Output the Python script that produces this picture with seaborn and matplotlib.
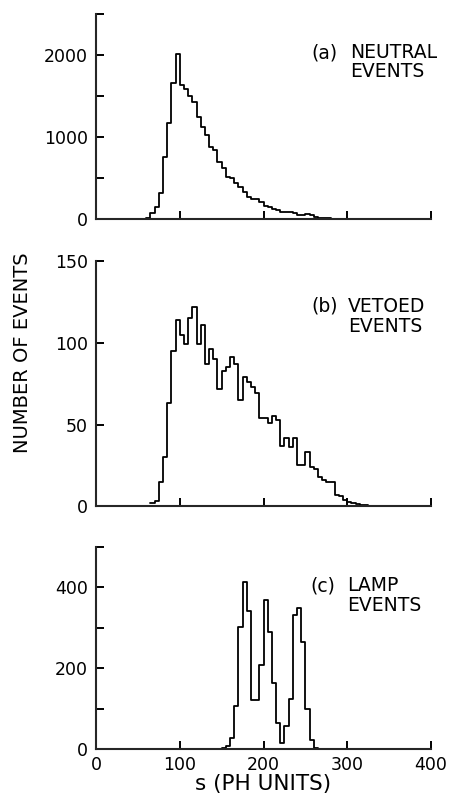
import numpy as np
import pandas as pd
import matplotlib
matplotlib.use("Agg")
import matplotlib.pyplot as plt
from matplotlib import font_manager
import seaborn as sns
from matplotlib.ticker import FixedLocator

# ---------------- data ----------------
BIN_WIDTH = 5

neutral_start = 60
neutral_counts = [12, 81, 154, 320, 756, 1170, 1660, 2020,
                  1638, 1585, 1504, 1435, 1252, 1130, 1028, 886, 845, 703,
                  622, 520, 500, 447, 390, 337, 276, 244, 252, 215,
                  163, 146, 122, 114, 93, 89, 85, 73, 53, 53,
                  69, 49, 33, 20, 20, 12, 8]

vetoed_start = 65
vetoed_counts = [2, 3, 15, 30, 63, 95, 114, 105, 99, 115,
                 122, 99, 111, 87, 96, 90, 72, 83, 85, 91,
                 87, 65, 79, 76, 73, 69, 54, 54, 51, 55,
                 53, 37, 42, 36, 42, 25, 25, 33, 24, 23,
                 18, 16, 15, 15, 7, 6, 4, 2.5, 2, 1.5,
                 1, 0.5, 0.3]

lamp_start = 140
lamp_counts = [0.5, 1, 3, 8, 27, 107, 303, 413, 343, 123,
               123, 208, 370, 290, 164, 64, 15, 58, 125, 332,
               350, 265, 100, 22, 4, 1]

x_ticks = [0, 100, 200, 300, 400]
panel_a_major = [0, 1000, 2000]
panel_a_minor = [500, 1500, 2500]
panel_b_major = [0, 50, 100, 150]
panel_c_major = [0, 200, 400]
panel_c_minor = [100, 300, 500]

tags = ["(a)", "(b)", "(c)"]
first_words = ["NEUTRAL", "VETOED", "LAMP"]
second_word = "EVENTS"

# ---------------- style ----------------
sns.set_style("ticks")
plt.rcParams['font.family'] = ['DejaVu Sans']

fig = plt.figure(figsize=(4.53, 7.97), dpi=100)

W, H = 453.0, 797.0
left_px, right_px = 96.0, 431.0
panel_px = [(14.3, 219.3), (261.0, 506.3), (547.0, 749.3)]
# annotation layout: (tag x, word x, baseline1, baseline2) in axes fraction
annot = [(0.642, 0.758, 0.785, 0.696),
         (0.644, 0.752, 0.793, 0.712),
         (0.640, 0.749, 0.782, 0.685)]

axes = []
for top, bot in panel_px:
    ax = fig.add_axes([left_px / W, (H - bot) / H,
                       (right_px - left_px) / W, (bot - top) / H])
    axes.append(ax)


def draw(ax, start, counts, ymax, major, minor, tag, word, pos):
    edges = [start + BIN_WIDTH * i for i in range(len(counts) + 1)]
    df = pd.DataFrame({"s": [e + BIN_WIDTH / 2.0 for e in edges[:-1]],
                       "n": counts})
    sns.histplot(data=df, x="s", weights="n", bins=edges, element="step",
                 fill=False, color="black", linewidth=1.3, ax=ax)
    ax.set_xlim(0, 400)
    ax.set_ylim(0, ymax)
    ax.xaxis.set_major_locator(FixedLocator(x_ticks))
    ax.yaxis.set_major_locator(FixedLocator(major))
    if minor:
        ax.yaxis.set_minor_locator(FixedLocator(minor))
    ax.spines["top"].set_visible(False)
    ax.spines["right"].set_visible(False)
    for s in ("left", "bottom"):
        ax.spines[s].set_linewidth(1.5)
    ax.tick_params(which="both", direction="in", length=6, width=1.4,
                   color="black")
    ax.tick_params(axis="y", which="minor", labelleft=False)
    ax.tick_params(axis="y", which="major", labelsize=12.5, pad=6,
                   labelcolor="black")
    ax.tick_params(axis="x", which="major", labelsize=12.5, pad=5,
                   labelcolor="black")
    ax.set_ylabel("")
    ax.set_xlabel("")
    tx, wx, b1, b2 = pos
    kw = dict(transform=ax.transAxes, fontsize=13.5, ha="left",
              va="baseline", color="black")
    ax.text(tx, b1, tag, **kw)
    ax.text(wx, b1, word, **kw)
    ax.text(wx, b2, second_word, **kw)


draw(axes[0], neutral_start, neutral_counts, 2500, panel_a_major,
     panel_a_minor, tags[0], first_words[0], annot[0])
draw(axes[1], vetoed_start, vetoed_counts, 150, panel_b_major,
     None, tags[1], first_words[1], annot[1])
draw(axes[2], lamp_start, lamp_counts, 500, panel_c_major,
     panel_c_minor, tags[2], first_words[2], annot[2])

for ax in axes[:2]:
    ax.tick_params(axis="x", labelbottom=False)

axes[2].set_xlabel("s (PH UNITS)", fontsize=15.5, labelpad=0,
                   color="black")

# y label font: prefer a condensed face if installed
ylab_family, ylab_size = "DejaVu Sans", 14
for fam, size in [("Liberation Sans Narrow", 16),
                  ("DejaVu Sans Condensed", 15)]:
    try:
        font_manager.findfont(font_manager.FontProperties(family=fam),
                              fallback_to_default=False)
        ylab_family, ylab_size = fam, size
        break
    except Exception:
        pass

fig.text(23 / W, (H - 353) / H, "NUMBER OF EVENTS",
         rotation=90, ha="center", va="center", fontsize=ylab_size,
         family=[ylab_family, "DejaVu Sans"], color="black")

fig.savefig("out.png", dpi=100)
